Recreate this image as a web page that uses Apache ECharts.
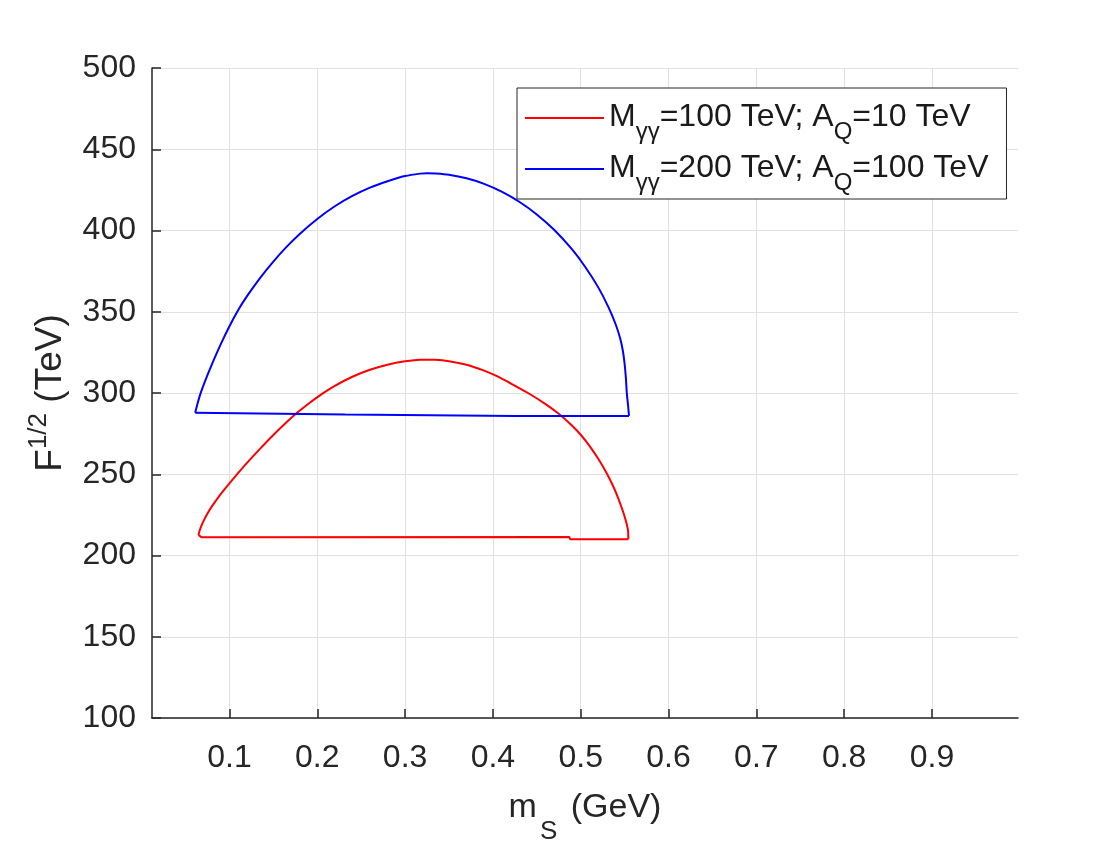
<!DOCTYPE html>
<html>
<head>
<meta charset="utf-8">
<script src="https://cdn.jsdelivr.net/npm/echarts@6/dist/echarts.min.js"></script>
<style>
  html, body { margin: 0; padding: 0; background: #ffffff; }
  #chart { width: 1112px; height: 841px; }
</style>
</head>
<body>
<div id="chart"></div>
<script>
// Closed contours in the (m_S, F^{1/2}) plane, one per parameter set.
// Each contour = upper arc (left tip -> right end) + flat lower edge (right -> left).

// M_γγ = 100 TeV, A_Q = 10 TeV
const redArc = [
  [0.0647, 212.6], [0.066, 215.2], [0.068, 218.2], [0.071, 221.8], [0.075, 225.8],
  [0.080, 230.2], [0.090, 237.8], [0.100, 244.4], [0.110, 250.8], [0.120, 257.0],
  [0.135, 265.8], [0.150, 274.2], [0.165, 282.0], [0.177, 287.8], [0.190, 293.4],
  [0.205, 299.3], [0.220, 304.4], [0.240, 310.0], [0.260, 314.3], [0.280, 317.4],
  [0.300, 319.5], [0.317, 320.5], [0.335, 320.4], [0.350, 319.6], [0.370, 317.4],
  [0.390, 313.8], [0.404, 310.5], [0.420, 306.0], [0.440, 300.0], [0.460, 293.2],
  [0.475, 287.2], [0.490, 280.0], [0.500, 274.3], [0.510, 267.5], [0.520, 259.5],
  [0.5296, 250.6], [0.537, 242.6], [0.543, 234.9], [0.548, 227.4], [0.551, 222.2],
  [0.553, 218.0], [0.554, 215.0], [0.5542, 210.0]
];
const redBase = [
  [0.5542, 210.0], [0.488, 210.0], [0.487, 211.4], [0.068, 211.3], [0.0647, 212.6]
];

// M_γγ = 200 TeV, A_Q = 100 TeV
const blueArc = [
  [0.061, 287.8], [0.063, 292.2], [0.0655, 297.0], [0.0674, 300.2], [0.072, 307.0],
  [0.080, 317.6], [0.090, 329.9], [0.100, 341.1], [0.110, 351.1], [0.120, 359.6],
  [0.135, 370.9], [0.150, 380.9], [0.165, 389.9], [0.180, 397.9], [0.200, 407.1],
  [0.220, 414.9], [0.240, 421.3], [0.260, 426.4], [0.280, 430.3], [0.300, 433.5],
  [0.317, 435.0], [0.325, 435.3], [0.335, 435.1], [0.350, 434.3], [0.370, 432.1],
  [0.390, 428.7], [0.410, 423.9], [0.430, 417.7], [0.450, 409.9], [0.470, 400.3],
  [0.490, 388.5], [0.505, 377.7], [0.520, 365.0], [0.532, 352.4], [0.540, 342.0],
  [0.545, 333.5], [0.548, 326.0], [0.550, 318.0], [0.5515, 309.0], [0.5525, 300.0],
  [0.554, 292.0], [0.555, 285.9]
];
const blueBase = [
  [0.555, 285.9], [0.425, 285.9], [0.424, 286.8], [0.232, 286.8], [0.231, 287.6], [0.061, 287.8]
];

const xTicks = [0.1, 0.2, 0.3, 0.4, 0.5, 0.6, 0.7, 0.8, 0.9];
const xRange = [0.0118, 0.998];
const yRange = [100, 500];
const yStep = 50;

const seriesNames = ['M100_A10', 'M200_A100'];
const legendLabels = {
  M100_A10: '{m|M}{s|γγ}{m|=100 TeV; A}{s|Q}{m|=10 TeV}',
  M200_A100: '{m|M}{s|γγ}{m|=200 TeV; A}{s|Q}{m|=100 TeV}'
};

const FONT = '"Liberation Sans", Arial, Helvetica, sans-serif';
const INK = '#262626';
const GRID = '#e1e1e1';
const RED = '#ff0000';
const BLUE = '#0000ff';

function line(name, data, color, smooth) {
  return {
    type: 'line', name: name, data: data,
    symbol: 'none', showSymbol: false, smooth: smooth,
    lineStyle: { color: color, width: 2 }, itemStyle: { color: color },
    silent: true
  };
}

const chart = echarts.init(document.getElementById('chart'), null, { renderer: 'canvas' });
chart.setOption({
  animation: false,
  backgroundColor: '#ffffff',
  grid: { left: 152, right: 94, top: 68, bottom: 123, containLabel: false, outerBoundsMode: 'none' },
  xAxis: {
    type: 'value', min: xRange[0], max: xRange[1],
    axisLine: { show: true, onZero: false, lineStyle: { color: INK, width: 1.5 } },
    axisTick: { show: true, inside: true, length: 9, customValues: xTicks, lineStyle: { color: INK, width: 1.5 } },
    axisLabel: {
      customValues: xTicks, margin: 24, color: INK, fontSize: 32, fontFamily: FONT,
      formatter: function (v) { return v.toFixed(1); }
    },
    splitLine: { show: true, lineStyle: { color: GRID, width: 1 } },
    name: '{m|m}{s|S}{m| (GeV)}',
    nameLocation: 'middle', nameGap: 73,
    nameTextStyle: {
      color: INK, fontFamily: FONT,
      rich: {
        m: { fontSize: 34, lineHeight: 36, verticalAlign: 'top', color: INK, fontFamily: FONT },
        s: { fontSize: 26, lineHeight: 28, padding: [28, 4, 0, 3], verticalAlign: 'top', color: INK, fontFamily: FONT }
      }
    }
  },
  yAxis: {
    type: 'value', min: yRange[0], max: yRange[1], interval: yStep,
    axisLine: { show: true, onZero: false, lineStyle: { color: INK, width: 1.5 } },
    axisTick: { show: true, inside: true, length: 9, lineStyle: { color: INK, width: 1.5 } },
    axisLabel: { margin: 16, color: INK, fontSize: 32, fontFamily: FONT },
    splitLine: { show: true, lineStyle: { color: GRID, width: 1 } },
    name: '{p|F}{u|1/2}{p| (TeV)}',
    nameLocation: 'middle', nameRotate: 90, nameGap: 86,
    nameTextStyle: {
      color: INK, fontFamily: FONT,
      rich: {
        p: { fontSize: 37, lineHeight: 40, padding: [6, 0, 0, 0], verticalAlign: 'top', color: INK, fontFamily: FONT },
        u: { fontSize: 26, lineHeight: 28, verticalAlign: 'top', color: INK, fontFamily: FONT }
      }
    }
  },
  legend: {
    orient: 'vertical', left: 517, top: 88,
    data: seriesNames,
    icon: 'rect',
    padding: [13, 18, 3.5, 8],
    itemGap: 7.5, itemWidth: 79, itemHeight: 2,
    backgroundColor: '#ffffff', borderColor: INK, borderWidth: 1, borderRadius: 0,
    selectedMode: false,
    formatter: function (name) { return legendLabels[name]; },
    textStyle: {
      color: '#1a1a1a', fontFamily: FONT,
      rich: {
        m: { fontSize: 32, lineHeight: 34, verticalAlign: 'top', color: '#1a1a1a', fontFamily: FONT },
        s: { fontSize: 24, lineHeight: 26, padding: [19.5, 0, 0, 0], verticalAlign: 'top', color: '#1a1a1a', fontFamily: FONT }
      }
    }
  },
  series: [
    line(seriesNames[0], redArc, RED, 0.3),
    line(seriesNames[0], redBase, RED, false),
    line(seriesNames[1], blueArc, BLUE, 0.3),
    line(seriesNames[1], blueBase, BLUE, false)
  ]
});
</script>
</body>
</html>
